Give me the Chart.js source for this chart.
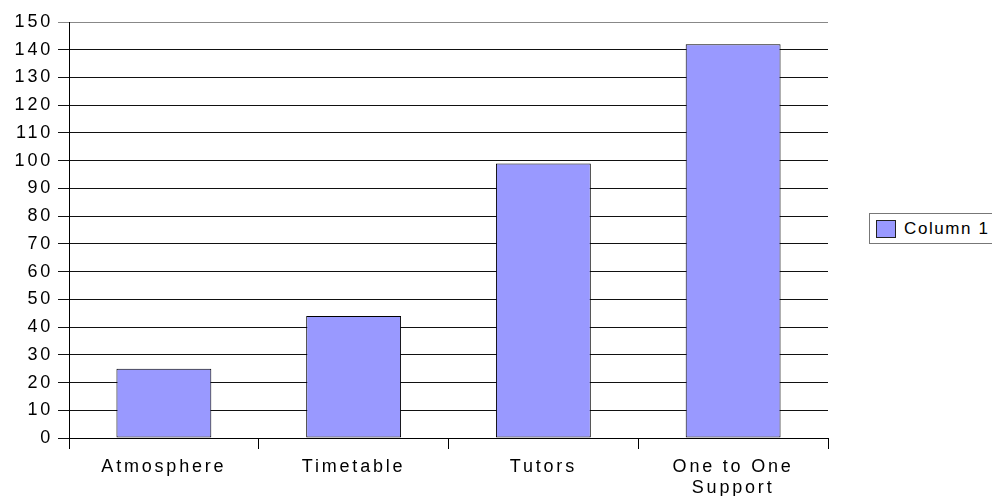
<!DOCTYPE html>
<html>
<head>
<meta charset="utf-8">
<script src="https://cdn.jsdelivr.net/npm/chart.js@4"></script>
<style>
    body { margin:0; background:#fff; }
    #wrap { position:relative; width:992px; height:496px; }
    #legendBox {
        position:absolute; left:869px; top:213px; width:140px; height:31px;
        border:1px solid #777; box-sizing:border-box; background:#fff;
        font-family:"Liberation Sans", Arial, sans-serif; font-size:17px;
        letter-spacing:1.6px; color:#000;
    }
    #legendBox .swatch {
        position:absolute; left:6px; top:6px; width:20px; height:18px;
        background:#9999ff; border:1px solid #222; box-sizing:border-box;
    }
    #legendBox .label { position:absolute; left:34px; top:5px; line-height:20px; white-space:nowrap; }
</style>
</head>
<body>
<div id="wrap">
    <canvas id="barChart" width="992" height="496"></canvas>
    <div id="legendBox"><span class="swatch"></span><span class="label">Column 1</span></div>
</div>
<script>
const categories = ["Atmosphere", "Timetable", "Tutors", ["One to One", "Support"]];
const column1 = [25, 44, 99, 142];
const seriesName = "Column 1";

const yMin = 0;
const yMax = 150;
const yStep = 10;

// old chart text looks stretched, widen it a bit with letter spacing
const spacingPlugin = {
    id: "spacing",
    beforeLayout(chart) { chart.ctx.letterSpacing = "2.8px"; },
    beforeDraw(chart) { chart.ctx.letterSpacing = "2.8px"; }
};

document.addEventListener("DOMContentLoaded", initializeChart);

function initializeChart(){
    const ctx = document.getElementById("barChart");
    if(!ctx) return;
    new Chart(ctx, {
        type: "bar",
        data: {
            labels: categories,
            datasets: [
                {
                    label: seriesName,
                    data: column1,
                    backgroundColor: "#9999ff",
                    borderColor: "#000",
                    borderWidth: 1,
                    borderSkipped: false,
                    barPercentage: 0.5,
                    categoryPercentage: 1.0
                }
            ]
        },
        options: {
            responsive: false,
            devicePixelRatio: 1,
            animation: false,
            layout: {
                padding: { top: 22, right: 164, left: 0, bottom: 0 }
            },
            plugins: {
                legend: { display: false },
                tooltip: { enabled: false }
            },
            scales: {
                x: {
                    afterFit(scale) { scale.height = 58; },
                    grid: {
                        offset: true,
                        drawOnChartArea: false,
                        drawTicks: true,
                        tickLength: 11,
                        color: "#000"
                    },
                    border: { color: "#000", width: 1 },
                    ticks: {
                        color: "#000",
                        padding: 8,
                        maxRotation: 0,
                        font: { family: "'Liberation Sans', Arial, sans-serif", size: 18, lineHeight: 1.15 }
                    }
                },
                y: {
                    min: yMin,
                    max: yMax,
                    afterFit(scale) { scale.width = 69; },
                    grid: {
                        color: (c) => c.tick && c.tick.value === yMax ? "#888" : "#111",
                        tickLength: 11
                    },
                    border: { color: "#000", width: 1 },
                    ticks: {
                        stepSize: yStep,
                        color: "#000",
                        padding: 5,
                        font: { family: "'Liberation Sans', Arial, sans-serif", size: 18 }
                    }
                }
            }
        },
        plugins: [spacingPlugin]
    });
}
</script>
</body>
</html>
